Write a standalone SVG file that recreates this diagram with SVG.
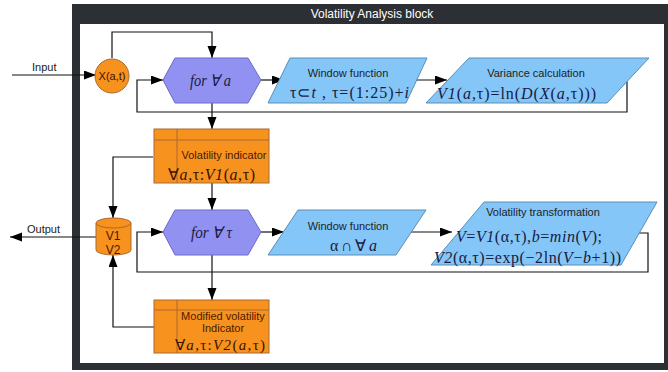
<svg xmlns="http://www.w3.org/2000/svg" width="668" height="372" viewBox="0 0 668 372">
<defs>
<marker id="ah" markerWidth="13" markerHeight="10" refX="12" refY="4.5" orient="auto" markerUnits="userSpaceOnUse">
<path d="M0,0 L12,4.5 L0,9 z" fill="#000"/>
</marker>
<style>
.frame{fill:#2c2f33}
.inner{fill:#ffffff}
.title{font-family:"Liberation Sans",Arial,sans-serif;font-size:12px;fill:#ffffff;text-anchor:middle}
.lbl{font-family:"Liberation Sans",Arial,sans-serif;font-size:11px;fill:#222;text-anchor:middle}
.olbl{font-family:"Liberation Sans",Arial,sans-serif;font-size:11px;fill:#4a1a00;text-anchor:middle}
.math{font-family:"Liberation Serif","Times New Roman",serif;font-size:16px;fill:#1a1a40}
.omath{font-family:"Liberation Serif","Times New Roman",serif;font-size:16px;fill:#3a1200}
.it{font-style:italic}
.hex{fill:#9191f2;stroke:#6b6bc4;stroke-width:1}
.para{fill:#84c6f8;stroke:#5b8db5;stroke-width:1}
.orange{fill:#f7921e;stroke:#a86a30;stroke-width:1}
.conn{fill:none;stroke:#111;stroke-width:1.2}
.ext{font-family:"Liberation Sans",Arial,sans-serif;font-size:11px;fill:#222}
</style>
</defs>
<g id="frame">
<rect class="frame" x="72" y="4" width="596" height="366"/>
<rect class="inner" x="80" y="24" width="584" height="339"/>
<text class="title" x="372" y="18">Volatility Analysis block</text>
</g>
<g id="connectors">
<path class="conn" d="M12,75 H96" marker-end="url(#ah)"/>
<path class="conn" d="M112,58 V32 H212 V58" marker-end="url(#ah)"/>
<path class="conn" d="M261,80 H284" marker-end="url(#ah)"/>
<path class="conn" d="M410,80 H447" marker-end="url(#ah)"/>
<path class="conn" d="M620,82 H627 V112 H137 V80 H163" marker-end="url(#ah)"/>
<path class="conn" d="M212,103 V129" marker-end="url(#ah)"/>
<path class="conn" d="M153,157 H113 V218" marker-end="url(#ah)"/>
<path class="conn" d="M96,237 H10" marker-end="url(#ah)"/>
<path class="conn" d="M212,183 V210" marker-end="url(#ah)"/>
<path class="conn" d="M261,232 H284" marker-end="url(#ah)"/>
<path class="conn" d="M408,232 H452" marker-end="url(#ah)"/>
<path class="conn" d="M634,233 H648 V272 H137 V232 H163" marker-end="url(#ah)"/>
<path class="conn" d="M212,255 V300" marker-end="url(#ah)"/>
<path class="conn" d="M154,327 H113 V255" marker-end="url(#ah)"/>
<text class="ext" x="32" y="71">Input</text>
<text class="ext" x="27" y="233">Output</text>
</g>
<g id="input-node">
<circle class="orange" cx="112" cy="76" r="17"/>
<text class="lbl" x="112" y="80" style="fill:#3a1200">X(a,t)</text>
</g>
<g id="loop-a">
<polygon class="hex" points="163,80 175,58 248,58 261,80 248,103 175,103"/>
<text class="math it" x="190" y="86" textLength="41" lengthAdjust="spacingAndGlyphs">for ∀ a</text>
</g>
<g id="window-1">
<polygon class="para" points="290,58 427,58 406,103 268,103"/>
<text class="lbl" x="348" y="77">Window function</text>
<text class="math" x="290" y="98" textLength="119" lengthAdjust="spacing">τ⊂<tspan class="it">t</tspan> , τ=(1:25)+<tspan class="it">i</tspan></text>
</g>
<g id="variance">
<polygon class="para" points="469,58 649,58 607,103 426,103"/>
<text class="lbl" x="536" y="77">Variance calculation</text>
<text class="math" x="437" y="99" textLength="159" lengthAdjust="spacing"><tspan class="it">V1</tspan>(<tspan class="it">a</tspan>,τ)=ln(<tspan class="it">D</tspan>(<tspan class="it">X</tspan>(<tspan class="it">a</tspan>,τ)))</text>
</g>
<g id="volatility-indicator">
<rect class="orange" x="154" y="129" width="115" height="54"/>
<line x1="154" y1="140" x2="269" y2="140" stroke="#a86a30" stroke-width="1"/>
<line x1="177" y1="129" x2="177" y2="183" stroke="#a86a30" stroke-width="1"/>
<text class="olbl" x="224" y="159">Volatility indicator</text>
<text class="omath" x="168" y="180" textLength="87" lengthAdjust="spacing">∀<tspan class="it">a</tspan>,τ:<tspan class="it">V1</tspan>(<tspan class="it">a</tspan>,τ)</text>
</g>
<g id="storage">
<path class="orange" d="M96,223 V250 A17.5,5 0 0 0 131,250 V223"/>
<ellipse class="orange" cx="113.5" cy="223" rx="17.5" ry="5"/>
<text class="olbl" x="113" y="240" style="font-size:12px">V1</text>
<text class="olbl" x="113" y="254" style="font-size:12px">V2</text>
</g>
<g id="loop-tau">
<polygon class="hex" points="163,232 175,210 248,210 261,232 248,255 175,255"/>
<text class="math it" x="191" y="238" textLength="41" lengthAdjust="spacingAndGlyphs">for ∀ τ</text>
</g>
<g id="window-2">
<polygon class="para" points="298,210 426,210 396,255 268,255"/>
<text class="lbl" x="348" y="230">Window function</text>
<text class="math" x="330" y="251" textLength="47" lengthAdjust="spacing">α∩∀<tspan class="it">a</tspan></text>
</g>
<g id="transformation">
<polygon class="para" points="484,202 657,202 621,265 431,265"/>
<text class="lbl" x="543" y="216">Volatility transformation</text>
<text class="math" x="456" y="242" textLength="146" lengthAdjust="spacing"><tspan class="it">V</tspan>=<tspan class="it">V1</tspan>(α,τ),<tspan class="it">b</tspan>=<tspan class="it">min</tspan>(<tspan class="it">V</tspan>);</text>
<text class="math" x="434" y="263" textLength="187" lengthAdjust="spacing"><tspan class="it">V2</tspan>(α,τ)=exp(−2ln(<tspan class="it">V</tspan>−<tspan class="it">b</tspan>+1))</text>
</g>
<g id="modified-indicator">
<rect class="orange" x="154" y="300" width="115" height="53"/>
<line x1="154" y1="310" x2="269" y2="310" stroke="#a86a30" stroke-width="1"/>
<line x1="177" y1="300" x2="177" y2="353" stroke="#a86a30" stroke-width="1"/>
<text class="olbl" x="223" y="320">Modified volatility</text>
<text class="olbl" x="223" y="332">Indicator</text>
<text class="omath" x="175" y="350" textLength="90" lengthAdjust="spacing" style="font-size:15px">∀<tspan class="it">a</tspan>,τ:<tspan class="it">V2</tspan>(<tspan class="it">a</tspan>,τ)</text>
</g>
</svg>
